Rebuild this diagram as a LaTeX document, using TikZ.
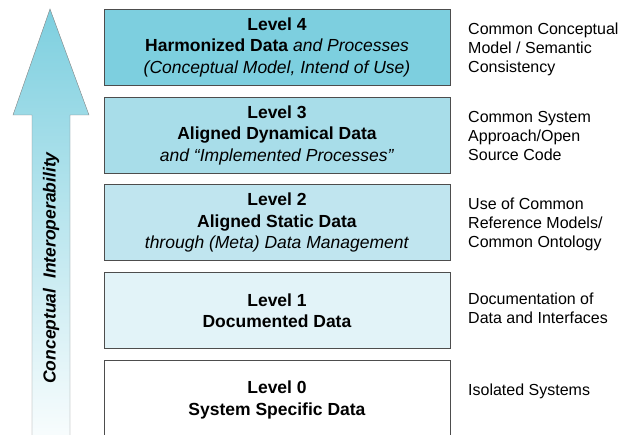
\documentclass[tikz,border=0pt]{standalone}
\usepackage{fontspec}
\setmainfont{Liberation Sans}
\usepackage{tikz}
\usetikzlibrary{shapes,calc,positioning}
\definecolor{lvfour}{HTML}{7DCFDF}
\definecolor{lvthree}{HTML}{A8DDE9}
\definecolor{lvtwo}{HTML}{C0E5EF}
\definecolor{lvone}{HTML}{E2F3F8}
\definecolor{boxline}{HTML}{4D4D4D}

\begin{document}
\begin{tikzpicture}[x=1pt, y=-1pt]
   \useasboundingbox (0,0) rectangle (619,435);
   % arrow on the left
   \path[top color=lvfour, bottom color=white, draw=boxline!70, thin]
      (50,9) -- (89,115) -- (70,115) -- (70,460) -- (32,460) -- (32,115) -- (13,115) -- cycle;
   \node (arrowtext) [rotate=90, font=\fontsize{17.5}{20}\selectfont\bfseries\itshape] at (51,268) {Conceptual\ \ Interoperability};
   \begin{scope}[every node/.style={rectangle, draw=boxline, thick, minimum width=346pt, minimum height=76pt, align=center, font=\fontsize{17.5}{21.5}\selectfont}]
    \node (lv4) [fill=lvfour]  at (277,47) {\textbf{Level 4}\\ \textbf{Harmonized Data} \textit{and Processes}\\ \textit{(Conceptual Model, Intend of Use)}};
    \node (lv3) [fill=lvthree] at (277,135) {\textbf{Level 3}\\ \textbf{Aligned Dynamical Data}\\ \textit{and “Implemented Processes”}};
    \node (lv2) [fill=lvtwo]   at (277,222.5) {\textbf{Level 2}\\ \textbf{Aligned Static Data}\\ \textit{through (Meta) Data Management}};
    \node (lv1) [fill=lvone]   at (277,310.5) {\textbf{Level 1}\\ \textbf{Documented Data}};
    \node (lv0) [fill=white, minimum height=80pt] at (277,400) {\textbf{Level 0}\\ \textbf{System Specific Data}};
   \end{scope}
   \begin{scope}[every node/.style={anchor=west, align=left, inner sep=0pt, font=\fontsize{16}{19}\selectfont}]
    \node (desc4) at (468,49) {Common Conceptual\\ Model / Semantic\\ Consistency};
    \node (desc3) at (468,136) {Common System\\ Approach/Open\\ Source Code};
    \node (desc2) at (468,224) {Use of Common\\ Reference Models/\\ Common Ontology};
    \node (desc1) at (468,308) {Documentation of\\ Data and Interfaces};
    \node (desc0) at (468,391) {Isolated Systems};
   \end{scope}
\end{tikzpicture}
\end{document}
